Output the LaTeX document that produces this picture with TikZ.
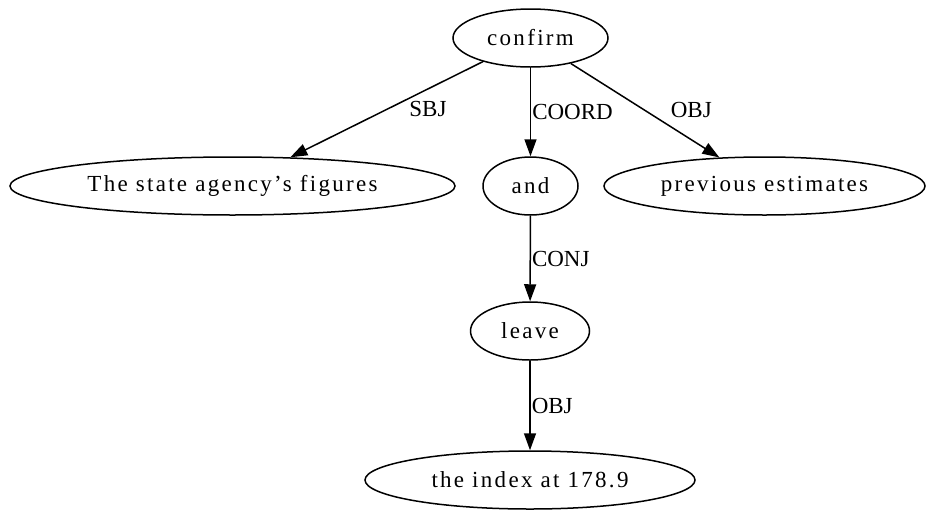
\documentclass[tikz,border=0pt]{standalone}
\usepackage{fontspec}
\setmainfont{Liberation Serif}
\newfontfamily\wordfont[LetterSpace=10]{Liberation Serif}
\usetikzlibrary{arrows.meta,shapes.geometric}
\tikzset{
  word/.style={draw,ellipse,line width=1.5pt,inner sep=0pt,minimum height=58pt,font=\wordfont\fontsize{23}{27}\selectfont},
  rel/.style={inner sep=0pt,font=\fontsize{23}{27}\selectfont},
  dep/.style={-{Triangle[length=17pt,width=12pt]},line width=1.5pt}
}
\begin{document}
\begin{tikzpicture}[x=1pt,y=-1pt]
\useasboundingbox (0,0) rectangle (926,509);
\node[word,minimum width=155pt](confirm) at (530.5,38){confirm};
\node[word,minimum width=445pt](agency) at (232.5,186){The state agency’s figures};
\node[word,minimum width=95pt](and) at (530.5,186){and};
\node[word,minimum width=321pt](estimates) at (764.5,186){previous estimates};
\node[word,minimum width=119pt](leave) at (530,331){leave};
\node[word,minimum width=330pt](index) at (530,480){the index at 178.9};
\draw[dep](confirm)--node[rel,pos=0.5,right=22pt]{SBJ}(agency);
\draw[dep](confirm)--node[rel,pos=0.5,right=1pt]{COORD}(and);
\draw[dep](confirm)--node[rel,pos=0.5,right=25pt]{OBJ}(estimates);
\draw[dep](and)--node[rel,pos=0.5,right=1pt]{CONJ}(leave);
\draw[dep](leave)--node[rel,pos=0.5,right=1pt]{OBJ}(index);
\end{tikzpicture}
\end{document}
